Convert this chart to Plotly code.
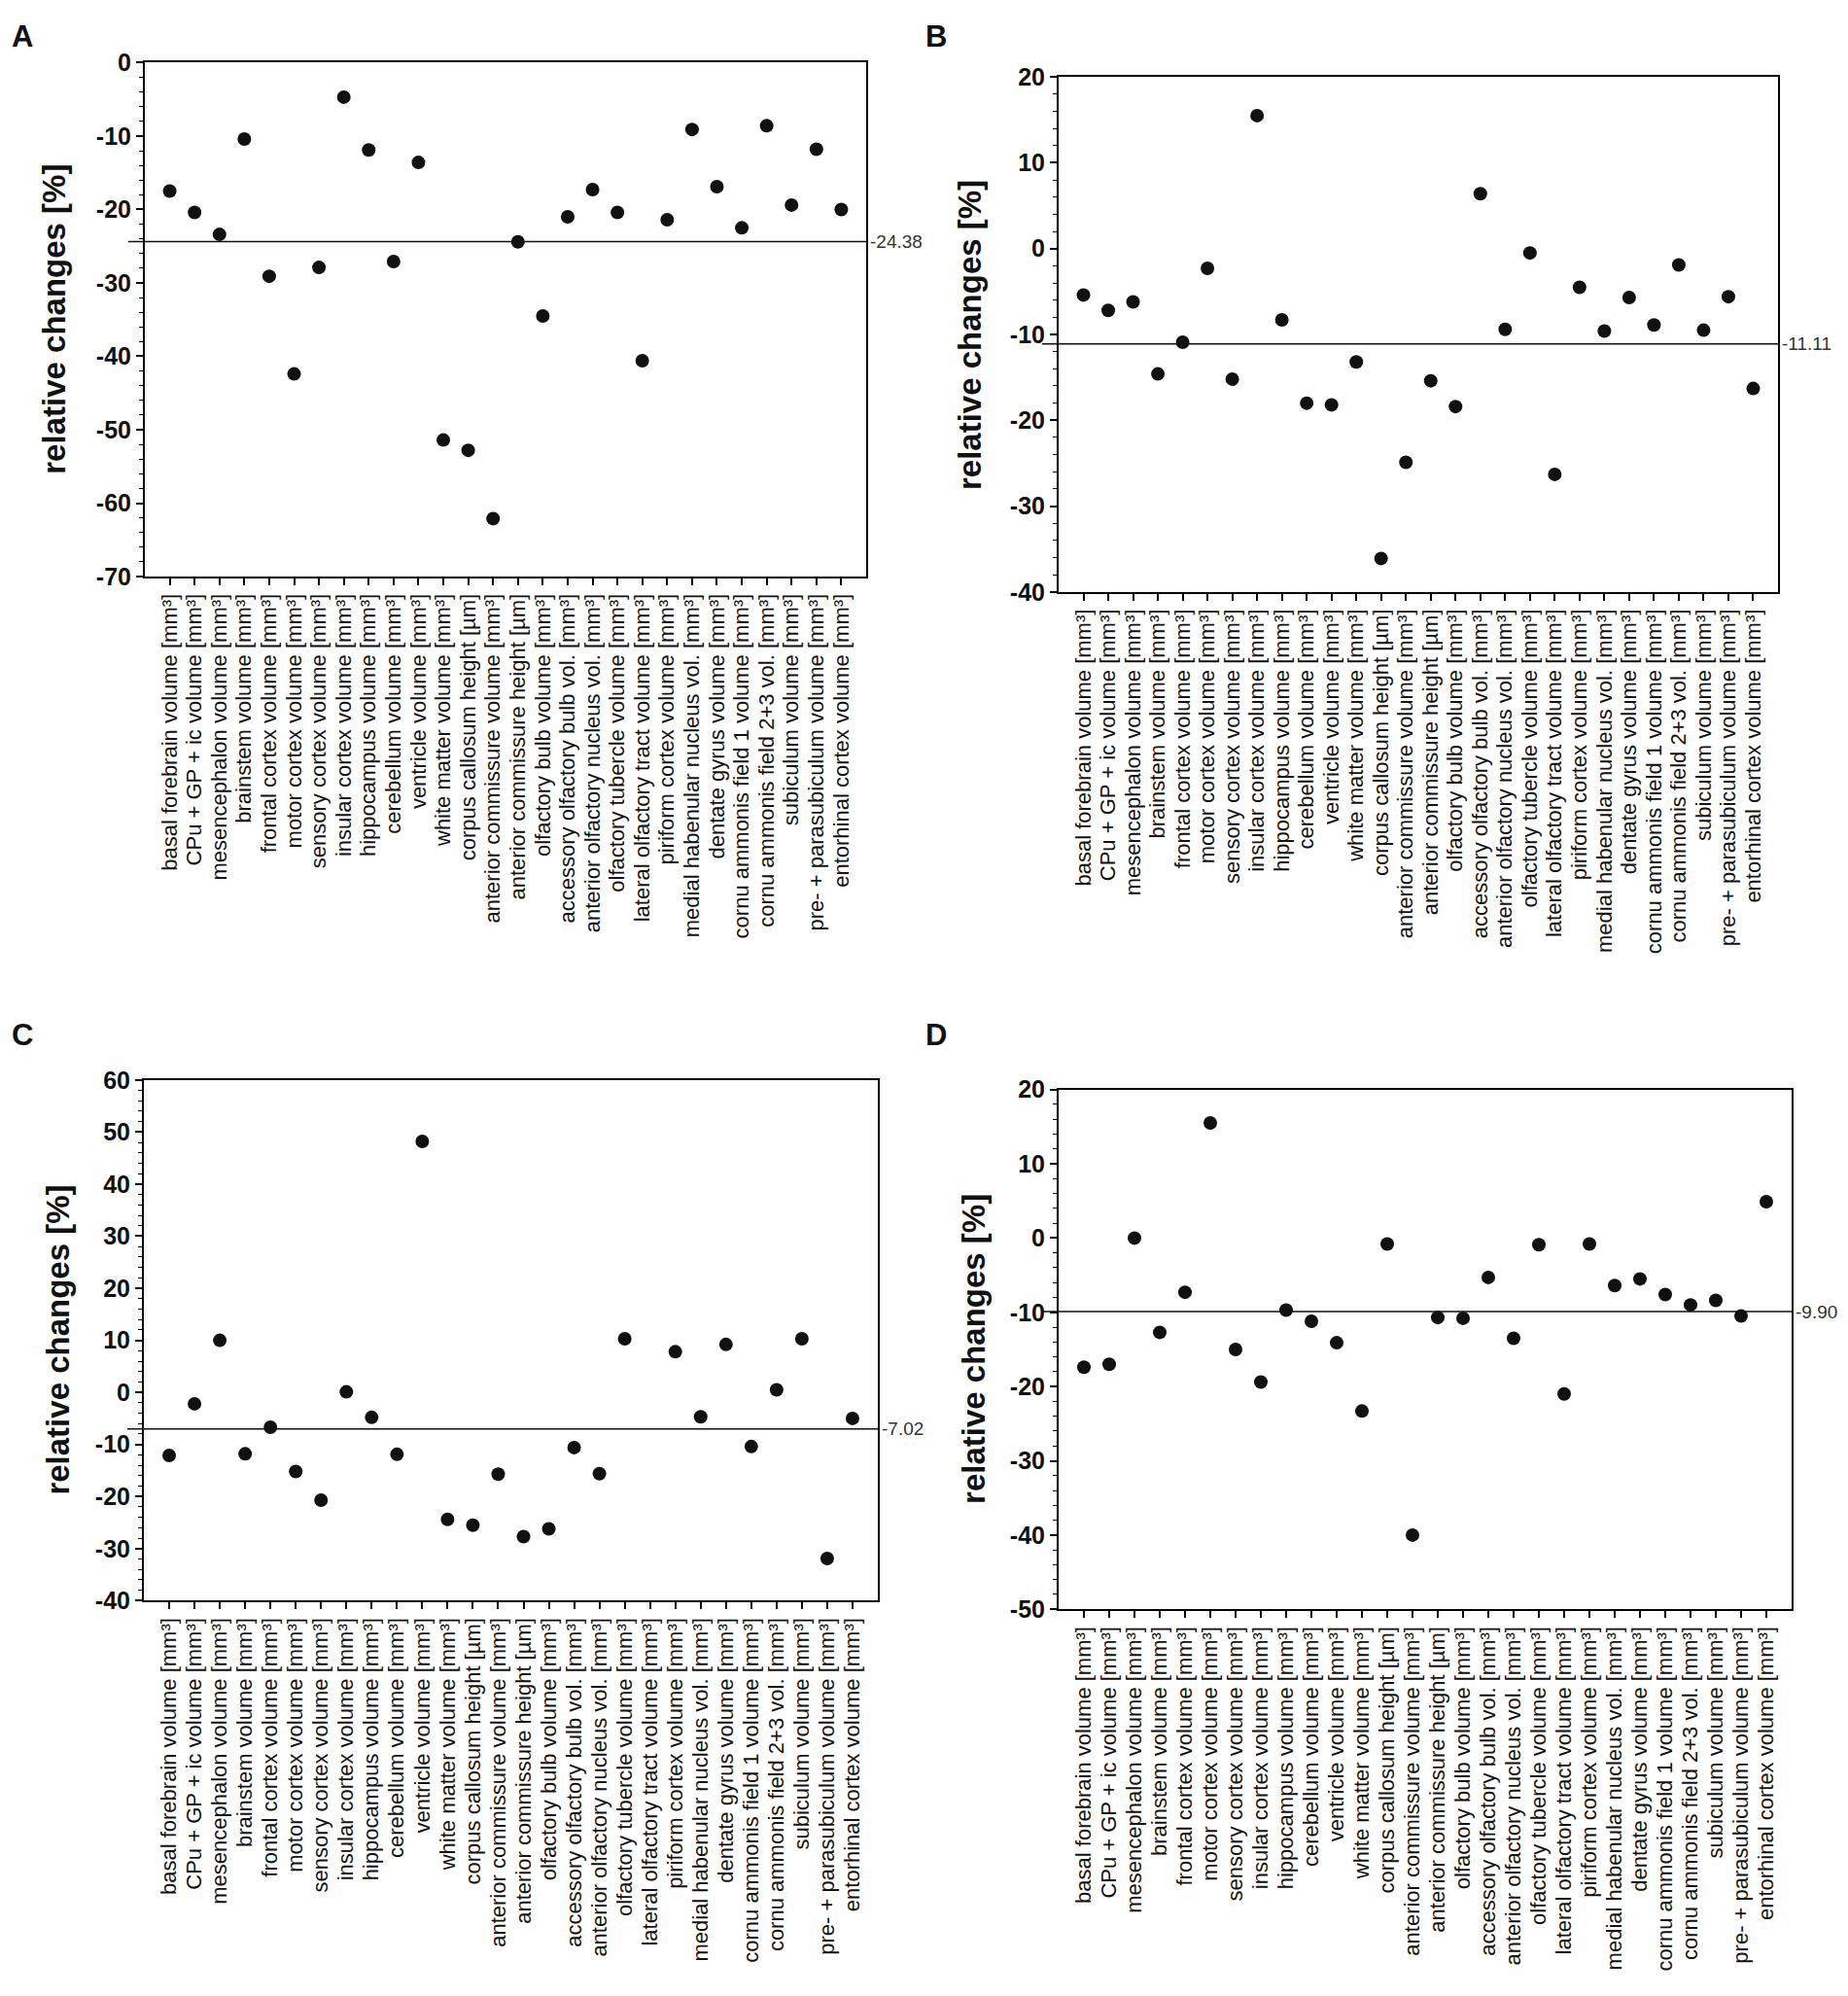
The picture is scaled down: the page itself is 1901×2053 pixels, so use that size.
import plotly.graph_objects as go

# 28 brain regions, same order in every panel
regions = [
    'basal forebrain volume [mm³]',
    'CPu + GP + ic volume [mm³]',
    'mesencephalon volume [mm³]',
    'brainstem volume [mm³]',
    'frontal cortex volume [mm³]',
    'motor cortex volume [mm³]',
    'sensory cortex volume [mm³]',
    'insular cortex volume [mm³]',
    'hippocampus volume [mm³]',
    'cerebellum volume [mm³]',
    'ventricle volume [mm³]',
    'white matter volume [mm³]',
    'corpus callosum height [µm]',
    'anterior commissure volume [mm³]',
    'anterior commissure height [µm]',
    'olfactory bulb volume [mm³]',
    'accessory olfactory bulb vol. [mm³]',
    'anterior olfactory nucleus vol. [mm³]',
    'olfactory tubercle volume [mm³]',
    'lateral olfactory tract volume [mm³]',
    'piriform cortex volume [mm³]',
    'medial habenular nucleus vol. [mm³]',
    'dentate gyrus volume [mm³]',
    'cornu ammonis field 1 volume [mm³]',
    'cornu ammonis field 2+3 vol. [mm³]',
    'subiculum volume [mm³]',
    'pre- + parasubiculum volume [mm³]',
    'entorhinal cortex volume [mm³]',
]

# relative changes [%] per panel
changes_a = [-17.5, -20.4, -23.4, -10.4, -29.1, -42.4, -27.9, -4.7, -11.9, -27.1,
             -13.6, -51.4, -52.8, -62.1, -24.4, -34.5, -21.0, -17.3, -20.4, -40.6,
             -21.4, -9.1, -16.9, -22.5, -8.6, -19.4, -11.8, -20.0]
changes_b = [-5.4, -7.2, -6.2, -14.6, -10.9, -2.3, -15.2, 15.5, -8.3, -18.0,
             -18.2, -13.2, -36.1, -24.9, -15.4, -18.4, 6.4, -9.4, -0.5, -26.3,
             -4.5, -9.6, -5.7, -8.9, -1.9, -9.5, -5.6, -16.3]
changes_c = [-12.1, -2.2, 10.0, -11.8, -6.7, -15.2, -20.7, 0.1, -4.8, -11.9,
             48.2, -24.4, -25.5, -15.7, -27.7, -26.2, -10.6, -15.6, 10.3, None,
             7.8, -4.7, 9.2, -10.4, 0.5, 10.3, -31.9, -5.0]
changes_d = [-17.4, -17.0, 0.0, -12.7, -7.3, 15.5, -15.0, -19.4, -9.7, -11.2,
             -14.1, -23.3, -0.8, -40.0, -10.7, -10.8, -5.3, -13.5, -0.9, -21.0,
             -0.8, -6.4, -5.5, -7.6, -9.0, -8.4, -10.5, 4.9]

means = [-24.38, -11.11, -7.02, -9.90]
mean_labels = ['-24.38', '-11.11', '-7.02', '-9.90']
panel_letters = ['A', 'B', 'C', 'D']

y_ticks_a = [0, -10, -20, -30, -40, -50, -60, -70]
y_ticks_b = [20, 10, 0, -10, -20, -30, -40]
y_ticks_c = [60, 50, 40, 30, 20, 10, 0, -10, -20, -30, -40]
y_ticks_d = [20, 10, 0, -10, -20, -30, -40, -50]

# the page puts the plot 8px in from the window edge, so keep the figure
# small enough to avoid scrollbars and shift all positions by that amount
OFF = 8
W, H = 1901 - 2 * OFF, 2053 - 2 * OFF
FONT = 'Liberation Sans, Arial, sans-serif'

# pixel boxes of the four plot areas in the reference (left, right, top, bottom)
panels = [
    dict(y=changes_a, ticks=y_ticks_a, box=(149, 891, 51, 587), title_x=56, letter=(10, 24)),
    dict(y=changes_b, ticks=y_ticks_b, box=(1089, 1829, 66, 603), title_x=997, letter=(950, 24)),
    dict(y=changes_c, ticks=y_ticks_c, box=(148, 903, 1112, 1655), title_x=60, letter=(10, 1065)),
    dict(y=changes_d, ticks=y_ticks_d, box=(1089, 1843, 1122, 1664), title_x=1002, letter=(950, 1065)),
]


def px_x(v):
    return (v - OFF) / W


def px_y(v):
    return 1 - (v - OFF) / H


fig = go.Figure()
shapes = []
annotations = []

for i, p in enumerate(panels):
    n = '' if i == 0 else str(i + 1)
    l, r, t, b = p['box']
    fig.add_trace(go.Scatter(
        x=regions, y=p['y'], mode='markers',
        marker=dict(size=14, color='#111111'),
        xaxis='x' + n, yaxis='y' + n, showlegend=False,
    ))

    fig.update_layout(**{
        'xaxis' + n: dict(
            domain=[px_x(l), px_x(r)], anchor='y' + n,
            type='category', range=[-1, len(regions)],
            tickmode='array', tickvals=regions, ticktext=regions,
            showline=True, linecolor='black', linewidth=2, mirror=True,
            ticks='outside', ticklen=7, tickwidth=1.5, tickcolor='black',
            tickangle=-90, showgrid=False, zeroline=False,
            tickfont=dict(family=FONT, size=22, color='#111111'),
        ),
        'yaxis' + n: dict(
            domain=[px_y(b), px_y(t)], anchor='x' + n,
            range=[min(p['ticks']), max(p['ticks'])],
            tickmode='array', tickvals=p['ticks'], ticktext=[str(v) for v in p['ticks']],
            showline=True, linecolor='black', linewidth=2, mirror=True,
            ticks='outside', ticklen=7, tickwidth=1.5, tickcolor='black',
            minor=dict(tickmode='linear', tick0=0, dtick=2, ticks='outside',
                       ticklen=4, tickwidth=1.2, tickcolor='black'),
            showgrid=False, zeroline=False,
            tickfont=dict(family=FONT, size=25, color='#111111', weight='bold'),
        ),
    })

    # mean line, reaching a little past the left axis
    shapes.append(dict(
        type='line', xref='x' + n + ' domain', yref='y' + n,
        x0=-17 / (r - l), x1=1, y0=means[i], y1=means[i],
        line=dict(color='#111111', width=1.5),
    ))
    annotations.append(dict(
        text=mean_labels[i], xref='x' + n + ' domain', yref='y' + n,
        x=1, y=means[i], xanchor='left', yanchor='middle', xshift=2,
        showarrow=False, font=dict(family=FONT, size=19, color='#333333'),
    ))
    annotations.append(dict(
        text='relative changes [%]', xref='paper', yref='paper',
        x=px_x(p['title_x']), y=px_y((t + b) / 2), textangle=-90,
        xanchor='center', yanchor='middle', showarrow=False,
        font=dict(family=FONT, size=33, color='#111111', weight='bold'),
    ))
    lx, ly = p['letter']
    annotations.append(dict(
        text=panel_letters[i], xref='paper', yref='paper',
        x=px_x(lx), y=px_y(ly), xanchor='left', yanchor='middle', showarrow=False,
        font=dict(family=FONT, size=31, color='#111111', weight='bold'),
    ))

fig.update_layout(
    width=W, height=H,
    margin=dict(l=0, r=0, t=0, b=0),
    paper_bgcolor='white', plot_bgcolor='white',
    shapes=shapes, annotations=annotations,
)

fig.write_html('out.html')
